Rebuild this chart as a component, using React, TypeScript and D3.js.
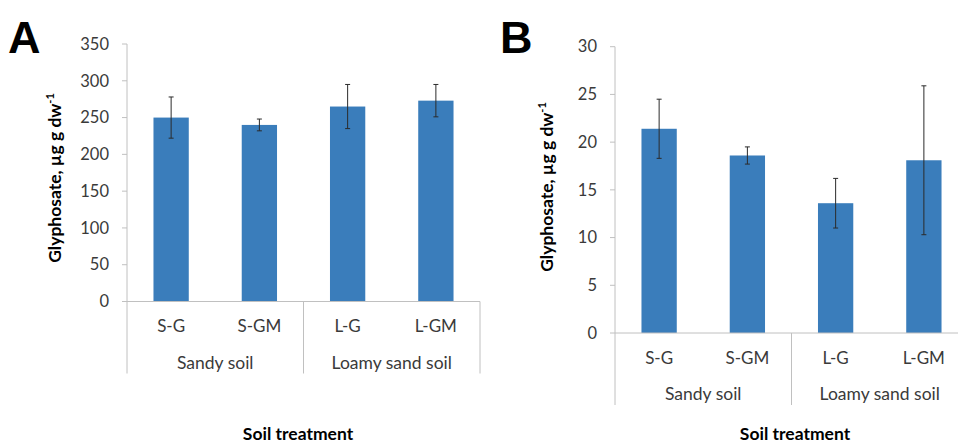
import React from "react";
import * as d3 from "d3";

// Treatments and their soil groups
const categories = ["S-G", "S-GM", "L-G", "L-GM"];
const groups = ["Sandy soil", "Loamy sand soil"];

// Panel A: glyphosate (µg g dw⁻¹), means and error
const valuesA = [250, 240, 265, 273];
const errorsA = [28, 8, 30, 22];
const ticksA = [0, 50, 100, 150, 200, 250, 300, 350];

// Panel B: glyphosate (µg g dw⁻¹), means and error
const valuesB = [21.4, 18.6, 13.6, 18.1];
const errorsB = [3.1, 0.9, 2.6, 7.8];
const ticksB = [0, 5, 10, 15, 20, 25, 30];

const FONT = "Lato, 'Open Sans', sans-serif";
const BAR = "#3a7dbb";
const AXIS = "#c0c0c0";
const TEXT = "#3a3a3a";

type PanelProps = {
  letter: string;
  values: number[];
  errors: number[];
  ticks: number[];
  left: number;
  right: number;
  top: number;
  bottom: number;
  letterX: number;
  titleX: number;
  titleY: number;
  xTitleX: number;
};

function Panel(p: PanelProps) {
  const yMax = p.ticks[p.ticks.length - 1];
  const y = d3.scaleLinear().domain([0, yMax]).range([p.bottom, p.top]);
  const x = d3
    .scaleBand<string>()
    .domain(categories)
    .range([p.left, p.right])
    .paddingInner(0.6)
    .paddingOuter(0.3);
  const band = (p.right - p.left) / categories.length;
  const bw = x.bandwidth();
  const cap = 2.5;
  const sepBottom = p.bottom + 72;

  return (
    <g>
      <text
        x={p.letterX}
        y={53}
        fontFamily="Arial, 'Liberation Sans', sans-serif"
        fontWeight="bold"
        fontSize={45}
        fill="#000"
      >
        {p.letter}
      </text>

      {/* y axis */}
      <line x1={p.left} x2={p.left} y1={p.top} y2={p.bottom} stroke={AXIS} strokeWidth={1} />
      {p.ticks.map((t) => (
        <g key={t}>
          <line x1={p.left - 5} x2={p.left} y1={y(t)} y2={y(t)} stroke={AXIS} strokeWidth={1} />
          <text
            x={p.left - 18}
            y={y(t)}
            dy="0.35em"
            textAnchor="end"
            fontFamily={FONT}
            fontSize={16.5}
            fill={TEXT}
          >
            {t}
          </text>
        </g>
      ))}

      {/* bars */}
      {categories.map((c, i) => (
        <rect
          key={c}
          x={x(c)}
          y={y(p.values[i])}
          width={bw}
          height={p.bottom - y(p.values[i])}
          fill={BAR}
        />
      ))}

      {/* error bars */}
      {categories.map((c, i) => {
        const cx = (x(c) as number) + bw / 2;
        const hi = y(p.values[i] + p.errors[i]);
        const lo = y(p.values[i] - p.errors[i]);
        return (
          <g key={c} stroke="#2b2b2b" strokeWidth={1}>
            <line x1={cx} x2={cx} y1={hi} y2={lo} />
            <line x1={cx - cap} x2={cx + cap} y1={hi} y2={hi} />
            <line x1={cx - cap} x2={cx + cap} y1={lo} y2={lo} />
          </g>
        );
      })}

      {/* x axis with grouped categories */}
      <line x1={p.left} x2={p.right} y1={p.bottom} y2={p.bottom} stroke={AXIS} strokeWidth={1} />
      {[0, 2, 4].map((k) => (
        <line
          key={k}
          x1={p.left + band * k}
          x2={p.left + band * k}
          y1={p.bottom}
          y2={sepBottom}
          stroke={AXIS}
          strokeWidth={1}
        />
      ))}
      {categories.map((c) => (
        <text
          key={c}
          x={(x(c) as number) + bw / 2}
          y={p.bottom + 25}
          dy="0.35em"
          textAnchor="middle"
          fontFamily={FONT}
          fontSize={17}
          fill={TEXT}
        >
          {c}
        </text>
      ))}
      {groups.map((g, k) => (
        <text
          key={g}
          x={p.left + band * (2 * k + 1)}
          y={p.bottom + 61}
          dy="0.35em"
          textAnchor="middle"
          fontFamily={FONT}
          fontSize={17.5}
          fill={TEXT}
        >
          {g}
        </text>
      ))}

      {/* axis titles */}
      <text
        transform={`translate(${p.titleX},${p.titleY}) rotate(-90)`}
        textAnchor="middle"
        dy="0.35em"
        fontFamily={FONT}
        fontWeight="bold"
        fontSize={17.5}
        fill="#000"
      >
        Glyphosate, µg g dw
        <tspan dy="-7" fontSize={11}>
          -1
        </tspan>
      </text>
      <text
        x={p.xTitleX}
        y={440}
        textAnchor="middle"
        fontFamily={FONT}
        fontWeight="bold"
        fontSize={17.5}
        fill="#000"
      >
        Soil treatment
      </text>
    </g>
  );
}

export default function App() {
  return (
    <svg
      width={958}
      height={445}
      style={{ position: "absolute", left: 0, top: 0, background: "#fff" }}
    >
      <rect width={958} height={445} fill="#fff" />
      <Panel
        letter="A"
        values={valuesA}
        errors={errorsA}
        ticks={ticksA}
        left={127}
        right={480}
        top={44}
        bottom={301.5}
        letterX={8}
        titleX={55}
        titleY={178}
        xTitleX={298}
      />
      <Panel
        letter="B"
        values={valuesB}
        errors={errorsB}
        ticks={ticksB}
        left={615}
        right={968}
        top={46.7}
        bottom={333}
        letterX={500}
        titleX={547}
        titleY={187}
        xTitleX={795}
      />
    </svg>
  );
}
